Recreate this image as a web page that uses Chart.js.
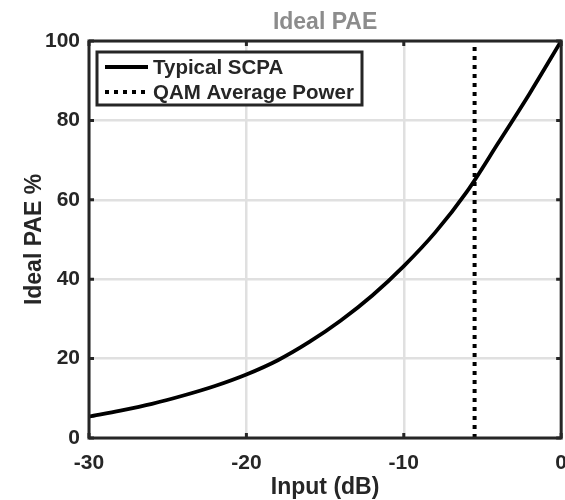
<!DOCTYPE html>
<html>
<head>
<meta charset="utf-8">
<script src="https://cdn.jsdelivr.net/npm/chart.js@4.4.1/dist/chart.umd.min.js"></script>
<style>
  html, body { margin: 0; padding: 0; background: #ffffff; overflow: hidden; }
  #wrap { width: 565px; height: 500px; overflow: hidden; position: relative; }
  canvas { display: block; }
</style>
</head>
<body>
<div id="wrap"><canvas id="pae" width="580" height="500"></canvas></div>
<script>
// ---- data ----
const chartTitle = 'Ideal PAE';
const xAxisLabel = 'Input (dB)';
const yAxisLabel = 'Ideal PAE %';
const seriesNames = ['Typical SCPA', 'QAM Average Power'];

const inputDb    = [-30, -28, -26, -24, -22, -20, -18, -16, -14, -12, -10, -8, -6, -4, -2, 0];
const paeTypical = [5.4, 6.9, 8.6, 10.7, 13.1, 16.0, 19.6, 24.2, 29.6, 35.9, 43.3, 51.8, 62.0, 74.3, 86.8, 100];

const qamAvgDb = -5.5;        // average input power of the QAM signal
const qamSpan  = [0, 100];    // vertical marker runs over the full PAE range

const xRange = [-30, 0];
const xStep  = 10;
const yRange = [0, 100];
const yStep  = 20;

// ---- styling ----
const AXIS_COLOR  = '#262626';
const TEXT_COLOR  = '#262626';
const TITLE_COLOR = '#8c8c8c';
const GRID_COLOR  = '#e0e0e0';
const FONT_FAMILY = '"Liberation Sans", Arial, Helvetica, sans-serif';

// Box around the plot area with inward tick marks on all four sides
const framePlugin = {
  id: 'frame',
  afterDatasetsDraw(chart) {
    const { ctx, chartArea: a, scales: { x, y } } = chart;
    const len = 5;
    ctx.save();
    ctx.strokeStyle = AXIS_COLOR;
    ctx.lineWidth = 3;
    ctx.setLineDash([]);
    ctx.beginPath();
    x.ticks.forEach(t => {
      const px = x.getPixelForValue(t.value);
      ctx.moveTo(px, a.bottom); ctx.lineTo(px, a.bottom - len);
      ctx.moveTo(px, a.top);    ctx.lineTo(px, a.top + len);
    });
    y.ticks.forEach(t => {
      const py = y.getPixelForValue(t.value);
      ctx.moveTo(a.left, py);  ctx.lineTo(a.left + len, py);
      ctx.moveTo(a.right, py); ctx.lineTo(a.right - len, py);
    });
    ctx.stroke();
    ctx.strokeRect(a.left, a.top, a.right - a.left, a.bottom - a.top);
    ctx.restore();
  }
};

// Boxed legend drawn inside the top-left corner of the plot area
const boxLegendPlugin = {
  id: 'boxLegend',
  afterDraw(chart, args, o) {
    const { ctx, chartArea: a } = chart;
    const ds = chart.data.datasets;
    const left = a.left + o.offsetX;
    const top = a.top + o.offsetY;
    ctx.save();
    ctx.fillStyle = '#ffffff';
    ctx.fillRect(left, top, o.width, o.height);
    ctx.lineWidth = 3;
    ctx.strokeStyle = AXIS_COLOR;
    ctx.strokeRect(left, top, o.width, o.height);
    ctx.font = `bold ${o.fontSize}px ${FONT_FAMILY}`;
    ctx.textBaseline = 'middle';
    ctx.textAlign = 'left';
    ds.forEach((d, i) => {
      const cy = top + o.padTop + o.rowHeight * (i + 0.5);
      ctx.beginPath();
      ctx.setLineDash(d.borderDash || []);
      ctx.lineWidth = d.borderWidth;
      ctx.strokeStyle = d.borderColor;
      ctx.moveTo(left + o.sampleStart, cy);
      ctx.lineTo(left + o.sampleStart + o.sampleLength, cy);
      ctx.stroke();
      ctx.setLineDash([]);
      ctx.fillStyle = TEXT_COLOR;
      ctx.fillText(d.label, left + o.textStart, cy + 1);
    });
    ctx.restore();
  }
};

const curvePoints = inputDb.map((v, i) => ({ x: v, y: paeTypical[i] }));
const markerPoints = qamSpan.map(v => ({ x: qamAvgDb, y: v }));

new Chart(document.getElementById('pae'), {
  type: 'line',
  data: {
    datasets: [
      {
        label: seriesNames[0],
        data: curvePoints,
        borderColor: '#000000',
        borderWidth: 3.8,
        pointRadius: 0,
        cubicInterpolationMode: 'monotone',
        fill: false
      },
      {
        label: seriesNames[1],
        data: markerPoints,
        borderColor: '#000000',
        borderWidth: 4,
        borderDash: [4, 5],
        pointRadius: 0,
        fill: false
      }
    ]
  },
  options: {
    responsive: false,
    animation: false,
    devicePixelRatio: 1,
    layout: { padding: { left: 0, right: 18, top: 0, bottom: 0 } },
    plugins: {
      legend: { display: false },
      tooltip: { enabled: false },
      title: {
        display: true,
        fullSize: false,
        text: chartTitle,
        color: TITLE_COLOR,
        font: { family: FONT_FAMILY, size: 23, weight: 'bold', lineHeight: 1.2 },
        padding: { top: 9, bottom: 4.4 }
      },
      boxLegend: {
        offsetX: 8, offsetY: 11, width: 265, height: 53,
        padTop: 2.5, rowHeight: 25,
        sampleStart: 8, sampleLength: 43, textStart: 56,
        fontSize: 20.5
      }
    },
    scales: {
      x: {
        type: 'linear',
        min: xRange[0], max: xRange[1],
        afterFit(scale) { scale.height = 62; },
        border: { display: false },
        grid: { color: GRID_COLOR, lineWidth: 2.5, drawTicks: false },
        ticks: {
          stepSize: xStep,
          padding: 13,
          color: TEXT_COLOR,
          font: { family: FONT_FAMILY, size: 21, weight: 'bold' },
          maxRotation: 0
        },
        title: {
          display: true,
          text: xAxisLabel,
          color: TEXT_COLOR,
          font: { family: FONT_FAMILY, size: 23, weight: 'bold', lineHeight: 1 },
          padding: { top: 0, bottom: 0.5 }
        }
      },
      y: {
        type: 'linear',
        min: yRange[0], max: yRange[1],
        afterFit(scale) { scale.width = 89; },
        border: { display: false },
        grid: { color: GRID_COLOR, lineWidth: 2.5, drawTicks: false },
        ticks: {
          stepSize: yStep,
          padding: 9,
          color: TEXT_COLOR,
          font: { family: FONT_FAMILY, size: 21, weight: 'bold' }
        },
        title: {
          display: true,
          text: yAxisLabel,
          color: TEXT_COLOR,
          font: { family: FONT_FAMILY, size: 23, weight: 'bold', lineHeight: 1 },
          padding: { top: 23, bottom: 0 }
        }
      }
    }
  },
  plugins: [framePlugin, boxLegendPlugin]
});
</script>
</body>
</html>
